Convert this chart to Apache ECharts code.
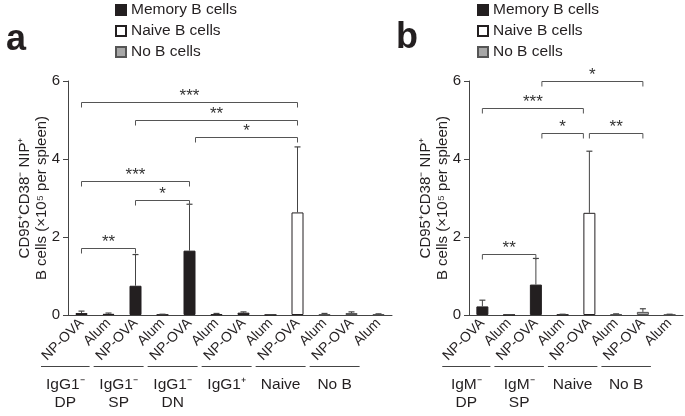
<!DOCTYPE html>
<html><head><meta charset="utf-8">
<script src="https://cdn.jsdelivr.net/npm/echarts@6/dist/echarts.min.js"></script>
<style>html,body{margin:0;padding:0;background:#fff}#c{width:685px;height:416px}</style>
</head><body><div id="c"></div>
<script>
// ---------- Panel a ----------
const catsA  = ['NP-OVA','Alum','NP-OVA','Alum','NP-OVA','Alum','NP-OVA','Alum','NP-OVA','Alum','NP-OVA','Alum'];
const typeA  = ['m','m','m','m','m','m','m','n','n','x','x','x'];
const valsA  = [0.05,0.03,0.75,0.01,1.65,0.02,0.06,0.005,2.63,0.02,0.05,0.02];
const errA   = [0.10,0.05,1.55,0.02,2.84,0.04,0.08,0.01,4.31,0.04,0.08,0.03];
const groupsA = [['IgG1⁻\nDP',0,0],['IgG1⁻\nSP',1,2],['IgG1⁻\nDN',3,4],['IgG1⁺',5,6],['Naive',7,8],['No B',9,10]];
const sigA   = [[0,8,5.47,'***'],[2,8,5.01,'**'],[4,8,4.56,'*'],[0,4,3.44,'***'],[2,4,2.96,'*'],[0,2,1.71,'**']];
// ---------- Panel b ----------
const catsB  = ['NP-OVA','Alum','NP-OVA','Alum','NP-OVA','Alum','NP-OVA','Alum'];
const typeB  = ['m','m','m','n','n','x','x','x'];
const valsB  = [0.22,0.005,0.78,0.01,2.62,0.02,0.08,0.01];
const errB   = [0.38,0.01,1.45,0.02,4.20,0.03,0.16,0.02];
const groupsB = [['IgM⁻\nDP',0,0],['IgM⁻\nSP',1,2],['Naive',3,4],['No B',5,6]];
const sigB   = [[2,6,6.0,'*'],[0,4,5.30,'***'],[2,4,4.66,'*'],[4,6,4.66,'**'],[0,2,1.57,'**']];
const yTicks = [0,2,4,6];
const seriesNames = {m:'Memory B cells', n:'Naive B cells', x:'No B cells'};

// endpoint nudges (style only): -1 left, +1 right
const nudgeA = [[0,0],[0,0],[1,0],[0,0],[0,0],[0,0]];
const nudgeB = [[1,0],[0,-1],[1,-1],[0,0],[0,0]];

const FONT = '"Liberation Sans", Arial, sans-serif';
const INK = '#231f20';
const styles = {
  m:{color:INK, borderColor:INK, borderWidth:1},
  n:{color:'#ffffff', borderColor:INK, borderWidth:1},
  x:{color:'#a7a7a7', borderColor:'#555', borderWidth:1}
};

function barSeries(vals, types, idx){
  return ['m','n','x'].map(t => ({
    name: seriesNames[t], type:'bar', xAxisIndex:idx, yAxisIndex:idx,
    barWidth:12, barGap:'-100%', itemStyle:styles[t], z:2,
    data: vals.map((v,i)=> types[i]===t ? v : '-')
  }));
}
function errSeries(vals, err, idx){
  return {
    type:'custom', xAxisIndex:idx, yAxisIndex:idx, silent:true, z:3,
    encode:{x:0, y:[1,2]},
    data: vals.map((v,i)=>[i, v, err[i]]),
    renderItem:(params, api)=>{
      const i = api.value(0);
      const p0 = api.coord([i, api.value(1)]), p1 = api.coord([i, api.value(2)]);
      return {type:'group', children:[
        {type:'line', shape:{x1:p0[0],y1:p0[1],x2:p1[0],y2:p1[1]}, style:{stroke:'#444',lineWidth:1}},
        {type:'line', shape:{x1:p1[0]-3,y1:p1[1],x2:p1[0]+3,y2:p1[1]}, style:{stroke:'#444',lineWidth:1.2}}
      ]};
    }
  };
}
function sigSeries(sig, nudge, idx){
  return {
    type:'custom', xAxisIndex:idx, yAxisIndex:idx, silent:true, z:4, clip:false,
    data: sig.map(s=>[s[0], s[2]]),
    renderItem:(params, api)=>{
      const s = sig[params.dataIndex], n = nudge[params.dataIndex];
      const p1 = api.coord([s[0], s[2]]), p2 = api.coord([s[1], s[2]]);
      const x1 = p1[0] + n[0]*6, x2 = p2[0] + n[1]*6, y = Math.round(p1[1]) + 0.5;
      return {type:'group', children:[
        {type:'polyline', shape:{points:[[x1,y+5],[x1,y],[x2,y],[x2,y+5]]}, style:{stroke:'#555',lineWidth:1,fill:null}},
        {type:'text', style:{text:s[3], x:(x1+x2)/2, y:y-6, align:'center', verticalAlign:'middle',
          font:'17px ' + FONT, fill:'#333'}}
      ]};
    }
  };
}
function groupSeries(groups, idx){
  return {
    type:'custom', xAxisIndex:idx, yAxisIndex:idx, silent:true, z:4, clip:false,
    data: groups.map(g=>[g[1], 0]),
    renderItem:(params, api)=>{
      const g = groups[params.dataIndex];
      const band = api.size([1,0])[0];
      const a = api.coord([g[1],0]), b = api.coord([g[2],0]);
      const x1 = a[0] - band*(params.dataIndex===0 ? 1.5 : 0.55), x2 = b[0] + band*0.3;
      const y = Math.round(a[1]) + 51.5;
      return {type:'group', children:[
        {type:'line', shape:{x1:x1,y1:y,x2:x2,y2:y}, style:{stroke:'#444',lineWidth:1}},
        {type:'text', style:{text:g[0], x:(x1+x2)/2, y:y+9, align:'center', verticalAlign:'top',
          font:'15.5px ' + FONT, lineHeight:18, fill:INK}}
      ]};
    }
  };
}
function xAxis(cats, idx){
  return {type:'category', gridIndex:idx, data:cats,
    axisLine:{lineStyle:{color:'#444', width:1}}, axisTick:{show:false},
    axisLabel:{rotate:45, interval:0, fontSize:14, fontFamily:FONT, color:INK, margin:6}};
}
function yAxis(idx){
  return {type:'value', gridIndex:idx, min:yTicks[0], max:yTicks[yTicks.length-1], interval:2,
    splitLine:{show:false},
    axisLine:{show:true, lineStyle:{color:'#444', width:1}},
    axisTick:{show:true, length:5, lineStyle:{color:'#444'}},
    axisLabel:{fontSize:15, fontFamily:FONT, color:INK, margin:8},
    name:'CD95⁺CD38⁻ NIP⁺\nB cells (×10⁵ per spleen)', nameLocation:'middle', nameRotate:90, nameGap:18,
    nameMoveOverlap:false,
    nameTextStyle:{fontSize:15, fontFamily:FONT, color:INK, lineHeight:17}};
}
function legend(left){
  return {orient:'vertical', left:left, top:2, padding:0, itemWidth:10, itemHeight:10, itemGap:5,
    selectedMode:false, icon:'rect',
    data:['Memory B cells','Naive B cells','No B cells'],
    textStyle:{fontSize:15.5, fontFamily:FONT, color:INK, lineHeight:16}};
}

const chart = echarts.init(document.getElementById('c'), null, {renderer:'canvas'});
chart.setOption({
  animation:false,
  backgroundColor:'#fff',
  legend:[legend(115), legend(477)],
  grid:[
    {left:68, top:81, width:324, height:234},
    {left:469, top:81, width:214, height:234}
  ],
  xAxis:[xAxis(catsA,0), xAxis(catsB,1)],
  yAxis:[yAxis(0), yAxis(1)],
  graphic:[
    {type:'text', left:6, top:22, style:{text:'a', font:'bold 36px ' + FONT, fill:INK}},
    {type:'text', left:396, top:20, style:{text:'b', font:'bold 36px ' + FONT, fill:INK}}
  ],
  series:[
    ...barSeries(valsA, typeA, 0), errSeries(valsA, errA, 0), sigSeries(sigA, nudgeA, 0), groupSeries(groupsA, 0),
    ...barSeries(valsB, typeB, 1), errSeries(valsB, errB, 1), sigSeries(sigB, nudgeB, 1), groupSeries(groupsB, 1)
  ]
});
</script></body></html>
